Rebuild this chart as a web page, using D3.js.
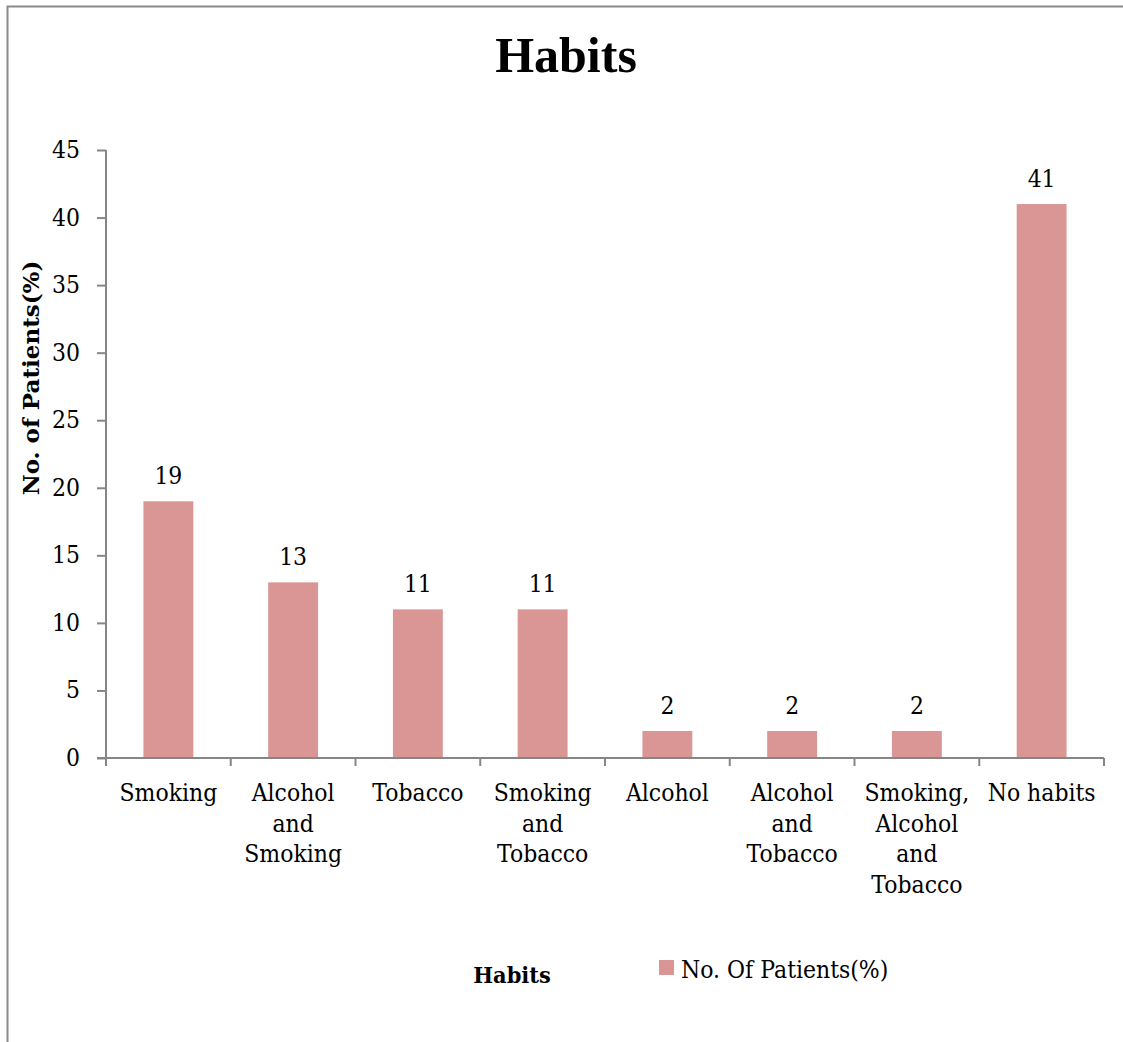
<!DOCTYPE html>
<html>
<head>
<meta charset="utf-8">
<script src="https://cdn.jsdelivr.net/npm/d3@7"></script>
<style>
  html, body { margin: 0; padding: 0; background: #fff; }
  svg { display: block; }
</style>
</head>
<body>
<svg id="chart" width="1123" height="1042"></svg>
<script>
// Share of patients by habit
const categories = [
  ["Smoking"],
  ["Alcohol", "and", "Smoking"],
  ["Tobacco"],
  ["Smoking", "and", "Tobacco"],
  ["Alcohol"],
  ["Alcohol", "and", "Tobacco"],
  ["Smoking,", "Alcohol", "and", "Tobacco"],
  ["No habits"]
];
const patientsPct = [19, 13, 11, 11, 2, 2, 2, 41];
const yTicks = [0, 5, 10, 15, 20, 25, 30, 35, 40, 45];
const seriesName = "No. Of Patients(%)";
const chartTitle = "Habits";
const xTitle = "Habits";
const yTitle = "No. of Patients(%)";

const W = 1123, H = 1042;
const svg = d3.select("#chart");
const serif = "'DejaVu Serif', serif";
const titleFont = "'Liberation Serif', 'Times New Roman', serif";
const axisColor = "#868686";
const barColor = "#D99694";
const sy = 1.06; // vertical stretch of body text

// outer frame (left and top edges)
svg.append("path")
  .attr("d", `M7.5,${H} V6.5 H${W}`)
  .attr("fill", "none")
  .attr("stroke", "#8a8a8a")
  .attr("stroke-width", 2);

const plot = { left: 106, right: 1104, top: 150, bottom: 758 };

const x = d3.scaleBand()
  .domain(d3.range(categories.length))
  .range([plot.left, plot.right])
  .paddingInner(0)
  .paddingOuter(0);

const y = d3.scaleLinear().domain([0, 45]).range([plot.bottom, plot.top]);

function stretchedText(g, tx, ty, str, opts = {}) {
  return g.append("text")
    .attr("transform", `translate(${tx},${ty}) scale(1,${opts.sy || sy})${opts.rotate ? " rotate(" + opts.rotate + ")" : ""}`)
    .attr("text-anchor", opts.anchor || "middle")
    .attr("font-family", opts.family || serif)
    .attr("font-size", opts.size || 22)
    .attr("font-weight", opts.weight || "normal")
    .attr("fill", "#000")
    .text(str);
}

// bars
const barW = x.bandwidth() * 0.4;
svg.append("g").selectAll("rect")
  .data(patientsPct)
  .join("rect")
  .attr("x", (d, i) => x(i) + (x.bandwidth() - barW) / 2)
  .attr("y", d => y(d))
  .attr("width", barW)
  .attr("height", d => y(0) - y(d))
  .attr("fill", barColor);

// value labels
const vl = svg.append("g");
patientsPct.forEach((d, i) => {
  stretchedText(vl, x(i) + x.bandwidth() / 2, y(d) - 17, d, { size: 22 });
});

// y axis
const yAxis = d3.axisLeft(y).tickValues(yTicks).tickSize(9).tickSizeOuter(0).tickFormat(d => "");
const gy = svg.append("g").attr("transform", `translate(${plot.left},0)`).call(yAxis);
gy.select(".domain").attr("stroke", axisColor).attr("stroke-width", 2)
  .attr("d", `M0,${plot.top}V${plot.bottom + 1}`);
gy.selectAll(".tick line").attr("stroke", axisColor).attr("stroke-width", 2);
const yl = svg.append("g");
yTicks.forEach(t => {
  stretchedText(yl, plot.left - 26, y(t) + 8, t, { anchor: "end", size: 22 });
});

// x axis
const xAxis = d3.axisBottom(x).tickSize(0).tickFormat(() => "");
const gx = svg.append("g").attr("transform", `translate(0,${plot.bottom})`).call(xAxis);
gx.select(".domain").attr("stroke", axisColor).attr("stroke-width", 2)
  .attr("d", `M${plot.left - 9},0H${plot.right}`);
gx.selectAll(".tick").remove();
const bounds = x.domain().map(i => x(i)).concat([plot.right]);
gx.selectAll("line.sep")
  .data(bounds)
  .join("line")
  .attr("class", "sep")
  .attr("x1", d => d).attr("x2", d => d)
  .attr("y1", 0).attr("y2", 8)
  .attr("stroke", axisColor).attr("stroke-width", 2);

// category labels
const cl = svg.append("g");
categories.forEach((lines, i) => {
  lines.forEach((ln, k) => {
    stretchedText(cl, x(i) + x.bandwidth() / 2, 801 + k * 30.5, ln, { size: 22 });
  });
});

// chart title
svg.append("text")
  .attr("x", 566).attr("y", 72)
  .attr("text-anchor", "middle")
  .attr("font-family", titleFont)
  .attr("font-weight", "bold")
  .attr("font-size", 50)
  .text(chartTitle);

// axis titles
stretchedText(svg, 39, 378, yTitle, { size: 23, weight: "bold", rotate: -90, sy: 1 });
stretchedText(svg, 512, 983, xTitle, { size: 21, weight: "bold" });

// legend
svg.append("rect").attr("x", 659).attr("y", 960).attr("width", 15).attr("height", 15).attr("fill", barColor);
stretchedText(svg, 681, 978, seriesName, { anchor: "start", size: 22 });
</script>
</body>
</html>
